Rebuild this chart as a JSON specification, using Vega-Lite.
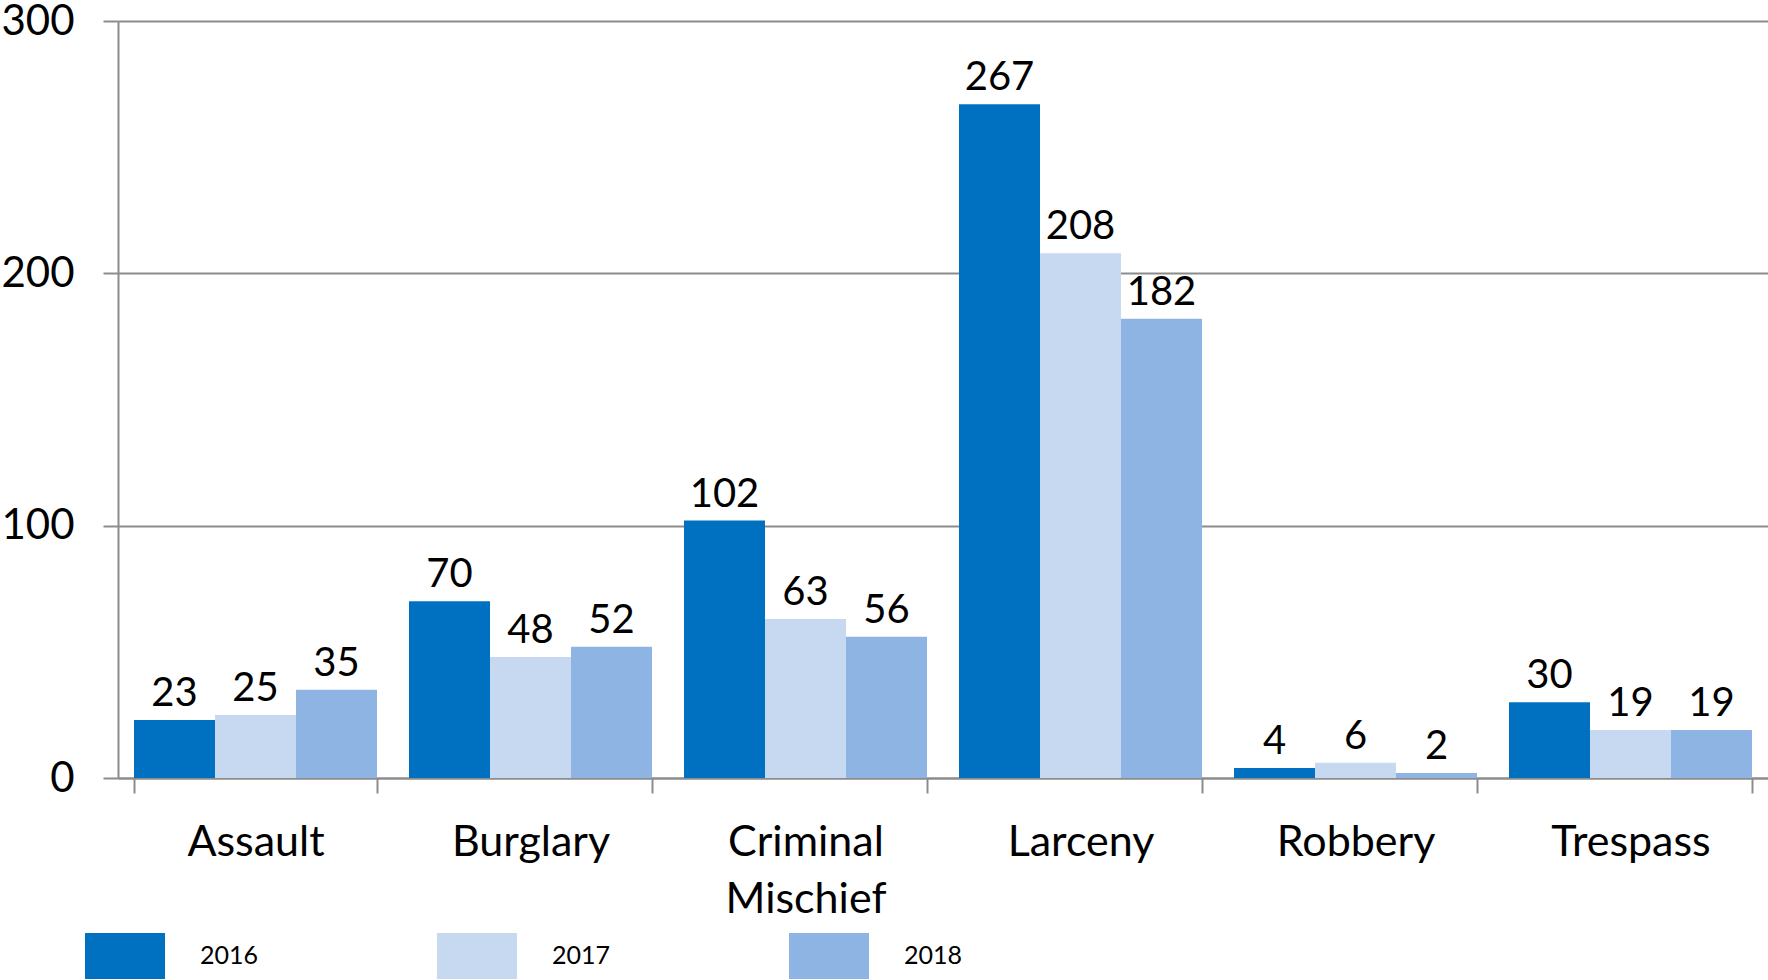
{
  "$schema": "https://vega.github.io/schema/vega-lite/v6.json",
  "width": 1650,
  "height": 757,
  "autosize": {"type": "none"},
  "padding": {"left": 118, "top": 21, "right": 0, "bottom": 202},
  "background": "white",
  "config": {
    "font": "Lato",
    "view": {"stroke": null}
  },
  "data": {
    "values": [
      {"category": "Assault", "year": "2016", "count": 23},
      {"category": "Assault", "year": "2017", "count": 25},
      {"category": "Assault", "year": "2018", "count": 35},
      {"category": "Burglary", "year": "2016", "count": 70},
      {"category": "Burglary", "year": "2017", "count": 48},
      {"category": "Burglary", "year": "2018", "count": 52},
      {"category": "Criminal Mischief", "year": "2016", "count": 102},
      {"category": "Criminal Mischief", "year": "2017", "count": 63},
      {"category": "Criminal Mischief", "year": "2018", "count": 56},
      {"category": "Larceny", "year": "2016", "count": 267},
      {"category": "Larceny", "year": "2017", "count": 208},
      {"category": "Larceny", "year": "2018", "count": 182},
      {"category": "Robbery", "year": "2016", "count": 4},
      {"category": "Robbery", "year": "2017", "count": 6},
      {"category": "Robbery", "year": "2018", "count": 2},
      {"category": "Trespass", "year": "2016", "count": 30},
      {"category": "Trespass", "year": "2017", "count": 19},
      {"category": "Trespass", "year": "2018", "count": 19}
    ]
  },
  "encoding": {
    "x": {
      "field": "category",
      "type": "nominal",
      "sort": ["Assault", "Burglary", "Criminal Mischief", "Larceny", "Robbery", "Trespass"],
      "scale": {"paddingInner": 0.1164, "paddingOuter": 0.0582},
      "axis": {
        "title": null,
        "labelAngle": 0,
        "labelFontSize": 43,
        "labelColor": "#000000",
        "labelPadding": 28,
        "labelLineHeight": 57,
        "labelExpr": "datum.value == 'Criminal Mischief' ? ['Criminal', 'Mischief'] : datum.label",
        "tickBand": "extent",
        "tickSize": 15,
        "tickColor": "#8c8c8c",
        "tickWidth": 2,
        "domainColor": "#8c8c8c",
        "domainWidth": 2,
        "grid": false
      }
    },
    "xOffset": {
      "field": "year",
      "type": "nominal",
      "scale": {"paddingInner": 0, "paddingOuter": 0}
    },
    "y": {
      "field": "count",
      "type": "quantitative",
      "scale": {"domain": [0, 300], "nice": false},
      "axis": {
        "title": null,
        "values": [0, 100, 200, 300],
        "labelFontSize": 42,
        "labelColor": "#000000",
        "labelPadding": 29,
        "tickSize": 15,
        "tickColor": "#8c8c8c",
        "tickWidth": 2,
        "domainColor": "#8c8c8c",
        "domainWidth": 2,
        "grid": true,
        "gridColor": "#8c8c8c",
        "gridWidth": 2
      }
    }
  },
  "layer": [
    {
      "mark": {"type": "bar"},
      "encoding": {
        "color": {
          "field": "year",
          "type": "nominal",
          "scale": {"domain": ["2016", "2017", "2018"], "range": ["#0070C0", "#C6D9F1", "#8EB4E3"]},
          "legend": {
            "title": null,
            "orient": "none",
            "legendX": -33,
            "legendY": 895,
            "direction": "horizontal",
            "padding": 0,
            "symbolType": "M-1,-0.575H1V0.575H-1Z",
            "symbolSize": 6400,
            "symbolStrokeWidth": 0,
            "symbolOpacity": 1,
            "labelFontSize": 25,
            "labelColor": "#000000",
            "labelOffset": 35,
            "columnPadding": 178
          }
        }
      }
    },
    {
      "mark": {"type": "text", "fontSize": 40, "color": "#000000", "baseline": "middle", "dy": -26},
      "encoding": {
        "text": {"field": "count", "type": "quantitative"}
      }
    }
  ]
}
